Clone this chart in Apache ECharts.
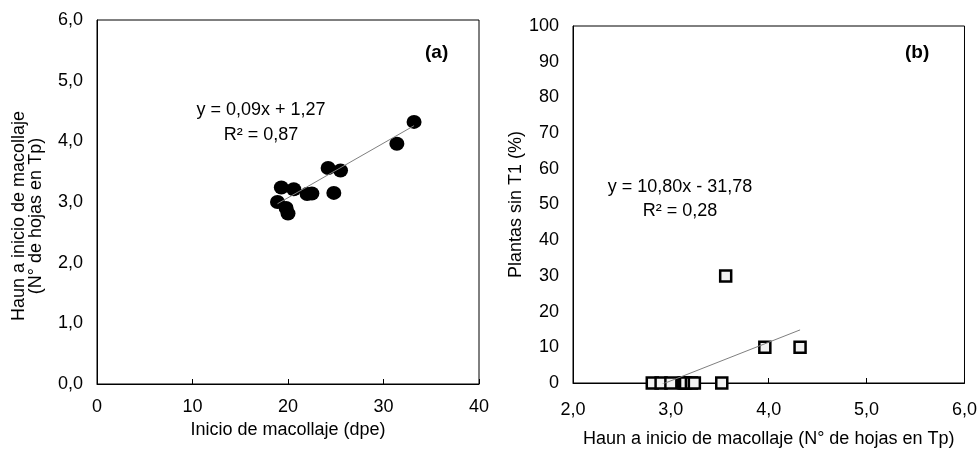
<!DOCTYPE html>
<html><head><meta charset="utf-8">
<script src="https://cdn.jsdelivr.net/npm/echarts@6/dist/echarts.min.js"></script>
<style>html,body{margin:0;padding:0;background:#fff}#c{width:980px;height:453px}</style>
</head><body><div id="c"></div>
<script>
// Panel (a): Inicio de macollaje (dpe) vs Haun a inicio de macollaje
const inicioMacollaje = [33.2, 31.4, 24.2, 25.5, 24.8, 19.3, 20.6, 22.0, 22.5, 18.9, 19.8, 20.0];
const haunA           = [4.32, 3.96, 3.56, 3.52, 3.15, 3.24, 3.21, 3.13, 3.14, 3.00, 2.90, 2.81];
// Panel (b): Haun vs Plantas sin T1 (%)
const haunB        = [2.81, 2.90, 3.00, 3.13, 3.14, 3.15, 3.21, 3.24, 3.52, 3.56, 3.96, 4.32];
const plantasSinT1 = [0, 0, 0, 0, 0, 0, 0, 0, 0, 30, 10, 10];
// Trend line coefficients (as printed on the chart)
const trendA = {slope: 0.09, intercept: 1.27, eq: 'y = 0,09x + 1,27', r2: 'R² = 0,87'};
const trendB = {slope: 10.80, intercept: -31.78, eq: 'y = 10,80x - 31,78', r2: 'R² = 0,28'};
const xTicksA = [0, 10, 20, 30, 40];
const yTicksA = [0, 1, 2, 3, 4, 5, 6];
const xTicksB = [2, 3, 4, 5, 6];
const yTicksB = [0, 10, 20, 30, 40, 50, 60, 70, 80, 90, 100];

const FONT = '"Liberation Sans", Arial, sans-serif';
const comma1 = v => v.toFixed(1).replace('.', ',');
function trendLine(xs, t) {
  const lo = Math.min(...xs), hi = Math.max(...xs);
  return [[lo, t.slope * lo + t.intercept], [hi, t.slope * hi + t.intercept]];
}
const axisBase = {
  axisLine: {show: true, onZero: false, lineStyle: {color: '#000', width: 1}},
  splitLine: {show: false},
  axisLabel: {color: '#000', fontSize: 18, fontFamily: FONT},
  nameTextStyle: {color: '#000', fontSize: 18, fontFamily: FONT}
};
const chart = echarts.init(document.getElementById('c'), null, {renderer: 'canvas'});
chart.setOption({
  animation: false,
  backgroundColor: '#fff',
  grid: [
    {left: 97, right: 501, top: 20, bottom: 69, show: true, borderColor: '#000', borderWidth: 1},
    {left: 573, right: 15, top: 26, bottom: 62, show: true, borderColor: '#000', borderWidth: 1}
  ],
  xAxis: [
    Object.assign({}, axisBase, {
      gridIndex: 0, type: 'value', min: xTicksA[0], max: xTicksA[xTicksA.length - 1], interval: 10,
      axisTick: {show: true, inside: true, length: 5, lineStyle: {color: '#000'}},
      axisLabel: Object.assign({}, axisBase.axisLabel, {margin: 14}),
      name: 'Inicio de macollaje (dpe)', nameLocation: 'middle', nameGap: 35
    }),
    Object.assign({}, axisBase, {
      gridIndex: 1, type: 'value', min: xTicksB[0], max: xTicksB[xTicksB.length - 1], interval: 1,
      axisTick: {show: true, inside: true, length: 5, lineStyle: {color: '#000'}},
      axisLabel: Object.assign({}, axisBase.axisLabel, {margin: 18, formatter: comma1}),
      name: 'Haun a inicio de macollaje (N° de hojas en Tp)', nameLocation: 'middle', nameGap: 47
    })
  ],
  yAxis: [
    Object.assign({}, axisBase, {
      gridIndex: 0, type: 'value', min: yTicksA[0], max: yTicksA[yTicksA.length - 1], interval: 1,
      axisTick: {show: false},
      axisLabel: Object.assign({}, axisBase.axisLabel, {margin: 14, formatter: comma1}),
      name: 'Haun a inicio de macollaje\n(N° de hojas en Tp)', nameLocation: 'middle', nameGap: 52,
      nameTextStyle: Object.assign({}, axisBase.nameTextStyle, {lineHeight: 17, padding: [0, 28, 0, 0]})
    }),
    Object.assign({}, axisBase, {
      gridIndex: 1, type: 'value', min: yTicksB[0], max: yTicksB[yTicksB.length - 1], interval: 10,
      axisTick: {show: false},
      axisLabel: Object.assign({}, axisBase.axisLabel, {margin: 14}),
      name: 'Plantas sin T1 (%)', nameLocation: 'middle', nameGap: 46
    })
  ],
  series: [
    {type: 'scatter', xAxisIndex: 0, yAxisIndex: 0, symbol: 'circle', symbolSize: [15, 14],
     itemStyle: {color: '#000', opacity: 1}, data: inicioMacollaje.map((x, i) => [x, haunA[i]]), z: 2},
    {type: 'line', xAxisIndex: 0, yAxisIndex: 0, symbol: 'none', clip: true,
     lineStyle: {color: '#7f7f7f', width: 1}, data: trendLine(inicioMacollaje, trendA), z: 3},
    {type: 'scatter', xAxisIndex: 1, yAxisIndex: 1, symbol: 'rect', symbolSize: 11,
     itemStyle: {color: '#f2f2f2', borderColor: '#000', borderWidth: 2.5, opacity: 1},
     data: haunB.map((x, i) => [x, plantasSinT1[i]]), z: 2},
    {type: 'line', xAxisIndex: 1, yAxisIndex: 1, symbol: 'none', clip: true,
     lineStyle: {color: '#7f7f7f', width: 1}, data: trendLine(haunB, trendB), z: 3}
  ],
  graphic: [
    {type: 'text', left: 425, top: 43, style: {text: '(a)', font: 'bold 19px ' + FONT, fill: '#000'}},
    {type: 'text', left: 905, top: 43, style: {text: '(b)', font: 'bold 19px ' + FONT, fill: '#000'}},
    {type: 'text', x: 261, y: 98, style: {text: trendA.eq + '\n' + trendA.r2, font: '18px ' + FONT, fill: '#000', align: 'center', lineHeight: 25}},
    {type: 'text', x: 680, y: 175, style: {text: trendB.eq + '\n' + trendB.r2, font: '18px ' + FONT, fill: '#000', align: 'center', lineHeight: 24}}
  ]
});
</script>
</body></html>
